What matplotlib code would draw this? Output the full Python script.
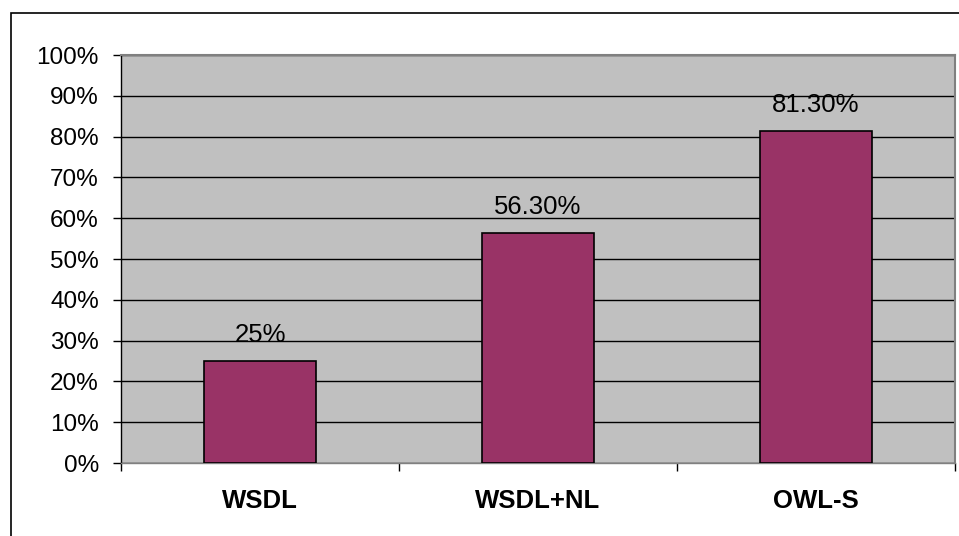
import matplotlib
matplotlib.use('Agg')
import matplotlib.pyplot as plot
from matplotlib.patches import Rectangle
import numpy as np

categories = ['WSDL', 'WSDL+NL', 'OWL-S']
values = [25.0, 56.3, 81.3]
value_labels = ['25%', '56.30%', '81.30%']
yticks = [0, 10, 20, 30, 40, 50, 60, 70, 80, 90, 100]

W, H = 959, 536
plot.rcParams['font.family'] = ['Liberation Sans', 'DejaVu Sans']

fig = plot.figure(figsize=(W / 100, H / 100), dpi=100)
fig.patch.set_facecolor('white')

# outer chart frame (only top/left show inside the image)
fig.patches.append(Rectangle((11 / W, -0.2), 1.5, (H - 13) / H + 0.2,
                             transform=fig.transFigure, fill=False,
                             edgecolor='black', linewidth=1.2))

ax = fig.add_axes([121 / W, (H - 463) / H, 834 / W, 408 / H])
ax.set_facecolor('#C0C0C0')

x = np.arange(len(categories))
ax.bar(x, values, width=0.4, color='#993366', edgecolor='black',
       linewidth=1.2, zorder=3)

for xi, v, lab in zip(x, values, value_labels):
    ax.annotate(lab, (xi, v), xytext=(0, 14), textcoords='offset pixels',
                ha='center', va='bottom', fontsize=18.5, zorder=4)

ax.set_xlim(-0.5, len(categories) - 0.5)
ax.set_ylim(0, 100)
ax.set_yticks(yticks)
ax.set_yticklabels([str(t) + '%' for t in yticks], fontsize=17.5)
ax.yaxis.grid(True, color='black', linewidth=1.0, zorder=1)
ax.set_axisbelow(True)

ax.set_xticks(x)
ax.set_xticklabels(categories, fontsize=18.5, fontweight='bold')
ax.set_xticks(np.arange(len(categories) + 1) - 0.5, minor=True)
ax.tick_params(axis='x', which='major', length=0, pad=19)
ax.tick_params(axis='x', which='minor', length=6, width=1.0, direction='out')
ax.tick_params(axis='y', length=6, width=1.0, direction='out', pad=10)

for side in ['top', 'right']:
    ax.spines[side].set_color('#808080')
    ax.spines[side].set_linewidth(1.5)
for side in ['left', 'bottom']:
    ax.spines[side].set_color('black')
    ax.spines[side].set_linewidth(1.0)
ax.spines['bottom'].set_color('#808080')

plot.savefig('out.png', dpi=100)
